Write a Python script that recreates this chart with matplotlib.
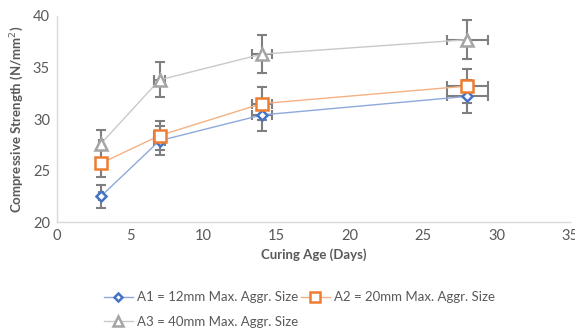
import matplotlib.pyplot as plt
from matplotlib.lines import Line2D

plt.rcParams['font.family'] = ['Lato', 'DejaVu Sans']

days = [3, 7, 14, 28]
a1 = [22.5, 27.9, 30.4, 32.2]
a2 = [25.7, 28.4, 31.5, 33.2]
a3 = [27.6, 33.8, 36.3, 37.7]
a1_err = [1.13, 1.40, 1.52, 1.61]
a2_err = [1.29, 1.42, 1.58, 1.66]
a3_err = [1.38, 1.69, 1.82, 1.89]
days_err = [0.15, 0.35, 0.7, 1.4]

labels = ['A1 = 12mm Max. Aggr. Size',
          'A2 = 20mm Max. Aggr. Size',
          'A3 = 40mm Max. Aggr. Size']

fig = plt.figure(figsize=(5.75, 3.33), dpi=100)
ax = fig.add_axes([0.099, 0.333, 0.892, 0.619])

series = [
    (a1, a1_err, 'D', '#4472C4', '#8EA9DB', 5),
    (a2, a2_err, 's', '#ED7D31', '#F4B183', 8),
    (a3, a3_err, '^', '#A5A5A5', '#C9C9C9', 8),
]
handles = []
for (vals, err, mk, mc, lc, ms), lab in zip(series, labels):
    ax.errorbar(days, vals, yerr=err, xerr=days_err, fmt='none',
                ecolor='#7F7F7F', elinewidth=1.5, capsize=3.5,
                capthick=1.5, zorder=2)
    ax.plot(days, vals, color=lc, lw=1.0, zorder=3)
    ax.plot(days, vals, ls='none', marker=mk, ms=ms, mfc='white',
            mec=mc, mew=1.8, zorder=4)
    handles.append(Line2D([], [], color=lc, lw=1.0, marker=mk, ms=ms - 1,
                          mfc='white', mec=mc, mew=1.8))

ax.set_xlim(0, 35)
ax.set_ylim(20, 40)
ax.set_xticks(range(0, 36, 5))
ax.set_yticks(range(20, 41, 5))
ax.tick_params(length=0, labelsize=10.5, colors='#595959', pad=5)
for s in ['top', 'right']:
    ax.spines[s].set_visible(False)
for s in ['left', 'bottom']:
    ax.spines[s].set_color('#D9D9D9')
    ax.spines[s].set_linewidth(1.0)

ax.set_xlabel('Curing Age (Days)', fontsize=9.5, fontweight='bold',
              color='#595959', labelpad=4)
ax.set_ylabel('Compressive Strength (N/mm$^2$)', fontsize=9.5,
              fontweight='bold', color='#595959', labelpad=5)

# legend filled column-wise, so reorder to get A1, A2 on the first row
leg = fig.legend([handles[0], handles[2], handles[1]],
                 [labels[0], labels[2], labels[1]],
                 ncol=2, loc='lower left', bbox_to_anchor=(0.16, -0.02),
                 frameon=False, fontsize=9.5, handlelength=2.2,
                 handletextpad=0.3, columnspacing=0.2, labelspacing=0.95,
                 labelcolor='#595959')

fig.savefig('out.png', dpi=100)
